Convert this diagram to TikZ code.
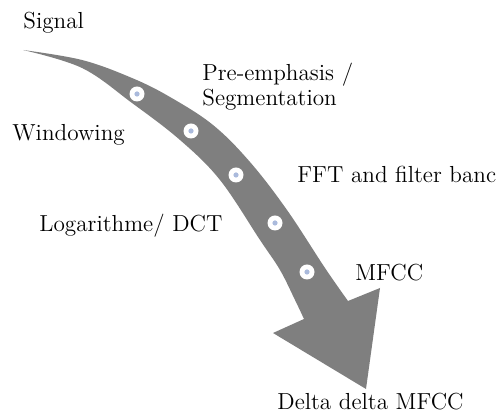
\documentclass[tikz,border=0pt]{standalone}
\usepackage{fontspec}
\usetikzlibrary{positioning}

\definecolor{shaftgray}{RGB}{127,127,127}
\definecolor{dotblue}{RGB}{170,186,220}

\begin{document}
\begin{tikzpicture}
        [x=0.5pt, y=-0.5pt,
         every node/.style={
             inner sep=0pt,
             font=\rmfamily\fontsize{11.6}{12.5}\selectfont
         },
         lbl/.style={
             anchor=base west,
             align=left
         },
         stop/.style={
             circle,
             fill=white,
             minimum size=7.5pt,
             path picture={\fill[dotblue] (path picture bounding box.center) circle (1.3pt);}
         }
         ]
        \useasboundingbox (0,0) rectangle (504,415);
        % the bent arrow
        \fill[shaftgray]
            plot[smooth, tension=0.6] coordinates {(23,50) (82,60) (132,78) (170,97)
                (213,125) (250,162) (287,210) (325,268) (348,301)}
            -- (380,288) -- (366,389) -- (273,333)
            -- plot[smooth, tension=0.6] coordinates {(304,319) (295,300) (280,270)
                (260,240) (220,180) (180,140) (132,103) (82,68) (23,50)}
            -- cycle;
        \foreach \p [count=\i] in {(137,94), (191,131), (236,175), (275,223), (307,272)}
            \node[stop] (d\i) at \p {};
        % steps
        \node[lbl] (sig) at (23,29) {Signal};
        \node[lbl] (pre) at (202,106) {Pre-emphasis /\\Segmentation};
        \node[lbl] (win) at (12,141) {Windowing};
        \node[lbl] (fft) at (297,183) {FFT and filter banc};
        \node[lbl] (log) at (39,232) {Logarithme/ DCT};
        \node[lbl] (mfcc) at (355,281) {MFCC};
        \node[lbl] (dd) at (277,410) {Delta delta MFCC};
    \end{tikzpicture}
\end{document}
